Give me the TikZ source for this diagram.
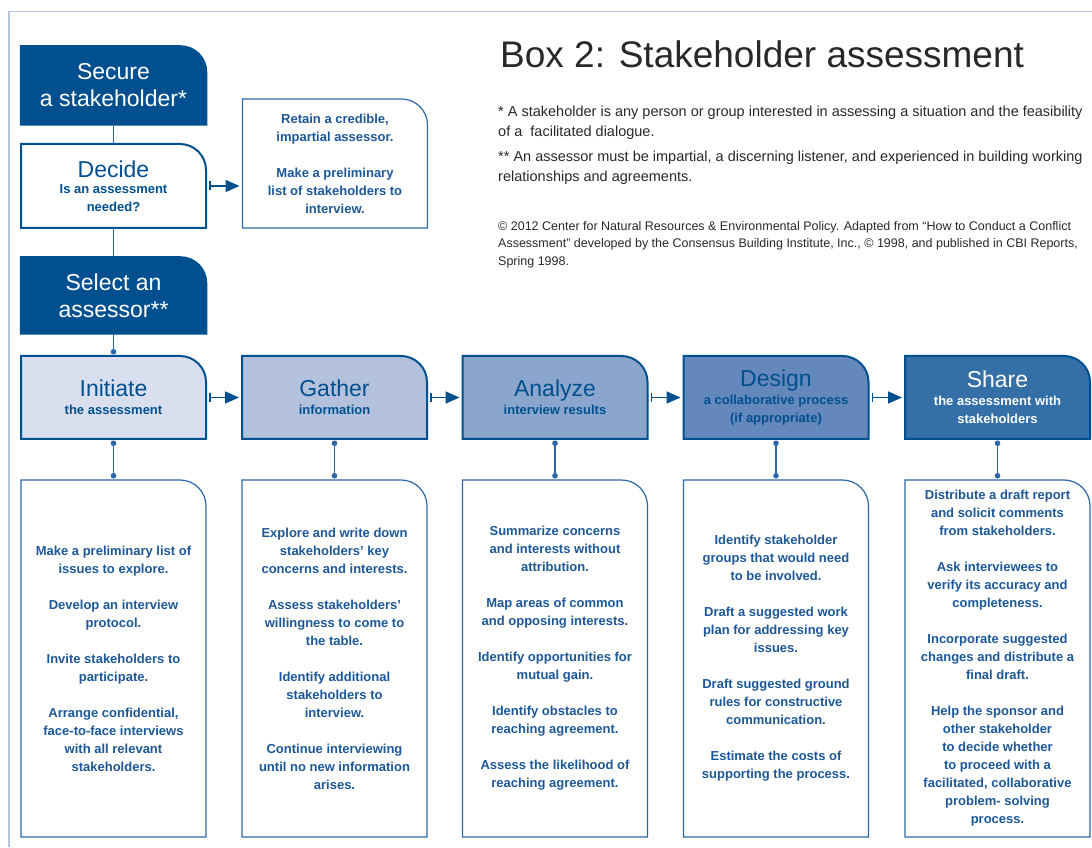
\documentclass[tikz,border=0pt]{standalone}
\usepackage{fontspec}
\setmainfont{Liberation Sans}
\usetikzlibrary{arrows.meta,backgrounds}
\definecolor{boxdark}{RGB}{0,80,143}
\definecolor{initfill}{RGB}{217,223,238}
\definecolor{gatherfill}{RGB}{179,193,221}
\definecolor{analyzefill}{RGB}{139,166,204}
\definecolor{designfill}{RGB}{100,136,188}
\definecolor{sharefill}{RGB}{52,111,168}
\definecolor{textblue}{RGB}{28,88,152}
\definecolor{lineblue}{RGB}{44,104,165}
\definecolor{framecol}{RGB}{183,197,220}
\definecolor{notegray}{RGB}{40,40,40}
\newcommand{\bigname}[1]{{\fontsize{23}{23}\selectfont\mdseries #1}}

\begin{document}
\begin{tikzpicture}[x=1pt,y=1pt,
  headbox/.style={minimum width=186pt,inner sep=0pt,outer sep=0pt,align=center,text=white,font=\fontsize{23}{27}\selectfont},
  stagebox/.style={minimum width=185pt,minimum height=83pt,inner sep=0pt,outer sep=0pt,align=center,text=boxdark,font=\fontsize{13}{18}\selectfont\bfseries},
  listbox/.style={minimum width=185pt,minimum height=357pt,inner sep=0pt,outer sep=0pt,align=center,text=textblue,font=\fontsize{13}{18}\selectfont\bfseries},
  notetext/.style={anchor=base west,inner sep=0pt,text=notegray,font=\fontsize{14.5}{16}\selectfont},
  copytext/.style={anchor=base west,inner sep=0pt,text=notegray,font=\fontsize{12.5}{14}\selectfont},
  linkline/.style={draw=lineblue,line width=1.3pt},
  dotline/.style={linkline,{Circle[length=5.5pt]}-{Circle[length=5.5pt]},shorten <=1.5pt,shorten >=1.5pt},
  flowarrow/.style={draw=boxdark,line width=1.6pt,{Bar[width=9pt]}-{Triangle[length=14pt,width=12pt]},shorten <=3pt,shorten >=3pt},
]
  \useasboundingbox (0,0) rectangle (1092,847);
  \draw [framecol,line width=1.5pt] (9,0) |- (1092,835.5);

  \node (node_title) at (500,779) [anchor=base west,inner sep=0pt,font=\fontsize{37}{40}\selectfont,text=notegray] {Box 2: Stakeholder assessment};
  \node (node_note_0) at (498,730) [notetext] {* A stakeholder is any person or group interested in assessing a situation and the feasibility};
  \node (node_note_1) at (498,710) [notetext] {of a \ facilitated dialogue.};
  \node (node_note_2) at (498,685) [notetext] {** An assessor must be impartial, a discerning listener, and experienced in building working};
  \node (node_note_3) at (498,665) [notetext] {relationships and agreements.};
  \node (node_copy_0) at (498,616) [copytext] {© 2012 Center for Natural Resources \& Environmental Policy. Adapted from “How to Conduct a Conflict};
  \node (node_copy_1) at (498,599) [copytext] {Assessment” developed by the Consensus Building Institute, Inc., © 1998, and published in CBI Reports,};
  \node (node_copy_2) at (498,581) [copytext] {Spring 1998.};

  \node (node_secure) at (113.5,761.5) [headbox,minimum height=79pt] {Secure\\a stakeholder*};
  \node (node_decide) at (113.5,661) [stagebox,minimum height=84pt] {\bigname{Decide}\\[-2pt]Is an assessment\\needed?};
  \node (node_select) at (113.5,551.5) [headbox,minimum height=77pt] {Select an\\assessor**};
  \node (node_retain) at (335,683.5) [listbox,minimum height=129pt] {Retain a credible,\\impartial assessor.\\[18pt]Make a preliminary\\list of stakeholders to\\interview.};

  \node (node_initiate) at (113.5,449.5) [stagebox] {\bigname{Initiate}\\the assessment};
  \node (node_gather) at (334.5,449.5) [stagebox] {\bigname{Gather}\\information};
  \node (node_analyze) at (555,449.5) [stagebox] {\bigname{Analyze}\\interview results};
  \node (node_design) at (776,449.5) [stagebox] {\bigname{Design}\\a collaborative process\\(if appropriate)};
  \node (node_share) at (997.5,449.5) [stagebox,text=white] {\bigname{Share}\\the assessment with\\stakeholders};

  \node (node_initiate_list) at (113.5,188.5) [listbox] {Make a preliminary list of\\issues to explore.\\[18pt]Develop an interview\\protocol.\\[18pt]Invite stakeholders to\\participate.\\[18pt]Arrange confidential,\\face-to-face interviews\\with all relevant\\stakeholders.};
  \node (node_gather_list) at (334.5,188.5) [listbox] {Explore and write down\\stakeholders’ key\\concerns and interests.\\[18pt]Assess stakeholders’\\willingness to come to\\the table.\\[18pt]Identify additional\\stakeholders to\\interview.\\[18pt]Continue interviewing\\until no new information\\arises.};
  \node (node_analyze_list) at (555,188.5) [listbox] {Summarize concerns\\and interests without\\attribution.\\[18pt]Map areas of common\\and opposing interests.\\[18pt]Identify opportunities for\\mutual gain.\\[18pt]Identify obstacles to\\reaching agreement.\\[18pt]Assess the likelihood of\\reaching agreement.};
  \node (node_design_list) at (776,188.5) [listbox] {Identify stakeholder\\groups that would need\\to be involved.\\[18pt]Draft a suggested work\\plan for addressing key\\issues.\\[18pt]Draft suggested ground\\rules for constructive\\communication.\\[18pt]Estimate the costs of\\supporting the process.};
  \node (node_share_list) at (997.5,188.5) [listbox] {Distribute a draft report\\and solicit comments\\from stakeholders.\\[18pt]Ask interviewees to\\verify its accuracy and\\completeness.\\[18pt]Incorporate suggested\\changes and distribute a\\final draft.\\[18pt]Help the sponsor and\\other stakeholder\\to decide whether\\to proceed with a\\facilitated, collaborative\\problem- solving\\process.};

  \begin{scope}[on background layer]
    \foreach \n/\f/\d/\w in {node_secure/boxdark/boxdark/1.5, node_decide/white/boxdark/2, node_select/boxdark/boxdark/1.5, node_retain/white/lineblue/1.2,
        node_initiate/initfill/boxdark/2, node_gather/gatherfill/boxdark/2, node_analyze/analyzefill/boxdark/2, node_design/designfill/boxdark/2, node_share/sharefill/boxdark/2,
        node_initiate_list/white/lineblue/1.2, node_gather_list/white/lineblue/1.2, node_analyze_list/white/lineblue/1.2, node_design_list/white/lineblue/1.2, node_share_list/white/lineblue/1.2}
      \draw [draw=\d,fill=\f,line width=\w pt] (\n.south west) -- (\n.north west) -- ([xshift=-26pt]\n.north east)
        arc[start angle=90,end angle=0,radius=26pt] -- (\n.south east) -- cycle;
  \end{scope}

  \draw [linkline] (node_secure) -- (node_decide);
  \draw [linkline] (node_decide) -- (node_select);
  \draw [linkline,-{Circle[length=5.5pt]},shorten >=1.5pt] (node_select) -- (node_initiate);
  \draw [flowarrow] (node_decide.east) -- (node_decide.east -| node_retain.west);
  \draw [flowarrow] (node_initiate) -- (node_gather);
  \draw [flowarrow] (node_gather) -- (node_analyze);
  \draw [flowarrow] (node_analyze) -- (node_design);
  \draw [flowarrow] (node_design) -- (node_share);
  \foreach \s in {initiate,gather,analyze,design,share}
    \draw [dotline] (node_\s) -- (node_\s_list);
%
\end{tikzpicture}
\end{document}
